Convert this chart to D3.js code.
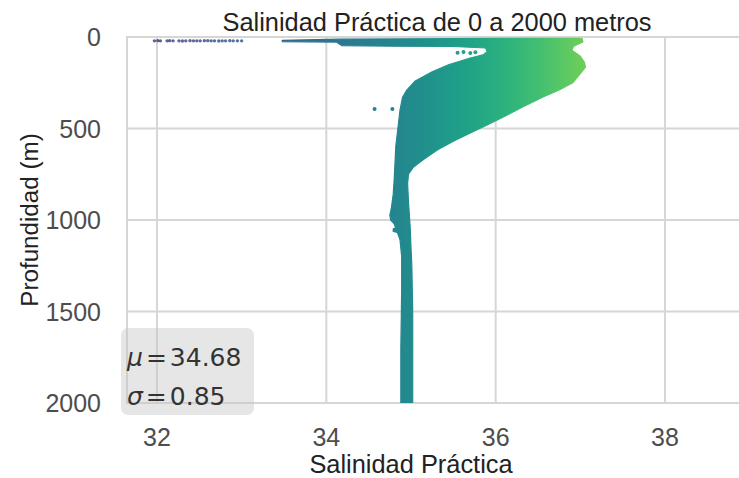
<!DOCTYPE html>
<html>
<head>
<meta charset="utf-8">
<script src="https://cdn.jsdelivr.net/npm/d3@7"></script>
<style>
  body { margin: 0; background: #fff; }
  svg { display: block; }
</style>
</head>
<body>
<svg id="chart" width="739" height="478"></svg>
<script>
// Axis ticks
const salTicks = [32, 34, 36, 38];
const depthTicks = [0, 500, 1000, 1500, 2000];

// Outline of the sampled cloud, clockwise: surface strip, warm/saline edge,
// bottom, fresher edge back up to the surface notch.
const ringSal = [
  33.48, 34.15, 35.0, 36.0, 37.02,
  37.03, 36.92, 36.90, 37.00, 37.05, 37.06, 37.00, 36.91, 36.75, 36.56, 36.33,
  36.09, 35.90, 35.70, 35.50, 35.31, 35.16, 35.03, 34.97, 34.96, 34.97, 34.99,
  35.00, 35.01, 35.02, 35.02,
  34.88,
  34.88, 34.89, 34.89, 34.87, 34.84, 34.79, 34.79, 34.82, 34.80, 34.76, 34.75,
  34.77, 34.79, 34.80, 34.81, 34.82, 34.84, 34.86, 34.87, 34.90, 34.95, 35.05,
  35.25, 35.45, 35.70, 35.85, 35.90, 35.88,
  35.50, 34.80, 34.18, 34.12, 33.48
];
const ringDepth = [
  18, 12, 10, 8, 8,
  27, 50, 72, 105, 140, 165, 200, 250, 290, 328, 380,
  437, 480, 524, 570, 617, 665, 710, 750, 800, 900, 1037,
  1150, 1250, 1500, 2000,
  2000,
  1700, 1380, 1200, 1108, 1068, 1062, 1048, 1042, 1020, 1000, 975,
  930, 860, 790, 700, 600, 520, 440, 400, 330, 290, 240,
  190, 150, 115, 98, 80, 60,
  52, 50, 47, 28, 26
];

// Fresh surface readings
const surfaceSal = [31.97, 32.01, 32.04, 32.12, 32.15, 32.19, 32.26, 32.30, 32.34,
                    32.39, 32.43, 32.47, 32.51, 32.56, 32.60, 32.64, 32.68, 32.73,
                    32.77, 32.81, 32.86, 32.90, 32.95, 33.00];
const surfaceDepth = [21, 20, 21, 21, 20, 21, 21, 22, 21, 20, 21, 21, 21, 20,
                      20, 21, 21, 22, 21, 21, 20, 21, 21, 21];

// Isolated readings off the main cloud
const looseSal = [34.57, 34.78, 35.55, 35.62, 35.70, 35.76];
const looseDepth = [393, 393, 86, 82, 88, 84];

// Summary statistics
const statSymbols = ["\u03bc", "\u03c3"];
const statValues = ["34.68", "0.85"];

const svg = d3.select("#chart");
svg.append("rect").attr("width", 739).attr("height", 478).attr("fill", "#fff");

const x = d3.scaleLinear().domain([31.646, 38.98]).range([127, 748]);
const y = d3.scaleLinear().domain([0, 2000]).range([37, 403]);
const [plotLeft, plotRight] = x.range();
const [plotTop, plotBottom] = y.range();

// Viridis hue keyed on salinity
const tone = d3.scaleLinear().domain([32, 34.95, 37.05]).range([0.2, 0.47, 0.78]).clamp(true);
const colour = s => d3.interpolateViridis(tone(s));

const defs = svg.append("defs");
const grad = defs.append("linearGradient")
  .attr("id", "salGrad")
  .attr("gradientUnits", "userSpaceOnUse")
  .attr("x1", x(31.6)).attr("x2", x(39.0))
  .attr("y1", 0).attr("y2", 0);
d3.range(31.6, 39.001, 0.1).forEach(s => {
  grad.append("stop")
    .attr("offset", (s - 31.6) / (39.0 - 31.6))
    .attr("stop-color", colour(s));
});
defs.append("clipPath").attr("id", "plotClip")
  .append("rect").attr("x", plotLeft).attr("y", plotTop)
  .attr("width", plotRight - plotLeft).attr("height", plotBottom - plotTop);

// Grid
const gridColour = "#d6d6d6";
const grid = svg.append("g");
grid.selectAll(".vg").data(salTicks).join("line")
  .attr("x1", d => x(d)).attr("x2", d => x(d))
  .attr("y1", plotTop).attr("y2", plotBottom)
  .attr("stroke", gridColour).attr("stroke-width", 2);
grid.selectAll(".hg").data(depthTicks).join("line")
  .attr("x1", plotLeft).attr("x2", plotRight)
  .attr("y1", d => y(d)).attr("y2", d => y(d))
  .attr("stroke", gridColour).attr("stroke-width", 2);
grid.append("rect")
  .attr("x", plotLeft).attr("y", plotTop)
  .attr("width", plotRight - plotLeft).attr("height", plotBottom - plotTop)
  .attr("fill", "none").attr("stroke", gridColour).attr("stroke-width", 2);

// Data
const plot = svg.append("g").attr("clip-path", "url(#plotClip)");
const ring = d3.line().x(d => x(d[0])).y(d => y(d[1]));
plot.append("path")
  .attr("d", ring(ringSal.map((s, i) => [s, ringDepth[i]])) + "Z")
  .attr("fill", "url(#salGrad)")
  .attr("stroke", "url(#salGrad)")
  .attr("stroke-width", 1.2)
  .attr("stroke-linejoin", "round");

plot.selectAll(".surf").data(surfaceSal).join("circle")
  .attr("cx", d => x(d)).attr("cy", (d, i) => y(surfaceDepth[i]))
  .attr("r", 1.7).attr("fill", d => colour(d)).attr("fill-opacity", 0.85);

plot.selectAll(".loose").data(looseSal).join("circle")
  .attr("cx", d => x(d)).attr("cy", (d, i) => y(looseDepth[i]))
  .attr("r", 2).attr("fill", d => colour(d));

// Tick labels
const tickFont = "'Liberation Sans', Arial, sans-serif";
svg.append("g").selectAll("text").data(salTicks).join("text")
  .attr("x", d => x(d)).attr("y", 446)
  .attr("text-anchor", "middle")
  .attr("font-family", tickFont).attr("font-size", 25)
  .attr("fill", "#4d4d4d")
  .text(d => d);
svg.append("g").selectAll("text").data(depthTicks).join("text")
  .attr("x", 101).attr("y", d => y(d) + 9)
  .attr("text-anchor", "end")
  .attr("font-family", tickFont).attr("font-size", 25)
  .attr("fill", "#4d4d4d")
  .text(d => d);

// Titles
svg.append("text")
  .attr("x", 437).attr("y", 31)
  .attr("text-anchor", "middle")
  .attr("font-family", tickFont).attr("font-size", 25.4)
  .attr("fill", "#222")
  .text("Salinidad Práctica de 0 a 2000 metros");
svg.append("text")
  .attr("x", 411).attr("y", 473)
  .attr("text-anchor", "middle")
  .attr("font-family", tickFont).attr("font-size", 25.4)
  .attr("fill", "#222")
  .text("Salinidad Práctica");
svg.append("text")
  .attr("transform", "translate(38,220) rotate(-90)")
  .attr("text-anchor", "middle")
  .attr("font-family", tickFont).attr("font-size", 24.2)
  .attr("fill", "#222")
  .text("Profundidad (m)");

// Statistics box
svg.append("rect")
  .attr("x", 121).attr("y", 328).attr("width", 133).attr("height", 87)
  .attr("rx", 7)
  .attr("fill", "#c8c8c8").attr("fill-opacity", 0.45);
const stats = svg.append("g")
  .attr("font-family", "'DejaVu Sans', sans-serif")
  .attr("font-size", 25).attr("fill", "#333");
statSymbols.forEach((sym, i) => {
  const t = stats.append("text").attr("x", 127).attr("y", 366 + i * 39);
  t.append("tspan").attr("font-style", "italic").text(sym);
  t.append("tspan").attr("dx", 3).text("=");
  t.append("tspan").attr("dx", 3).text(statValues[i]);
});
</script>
</body>
</html>
